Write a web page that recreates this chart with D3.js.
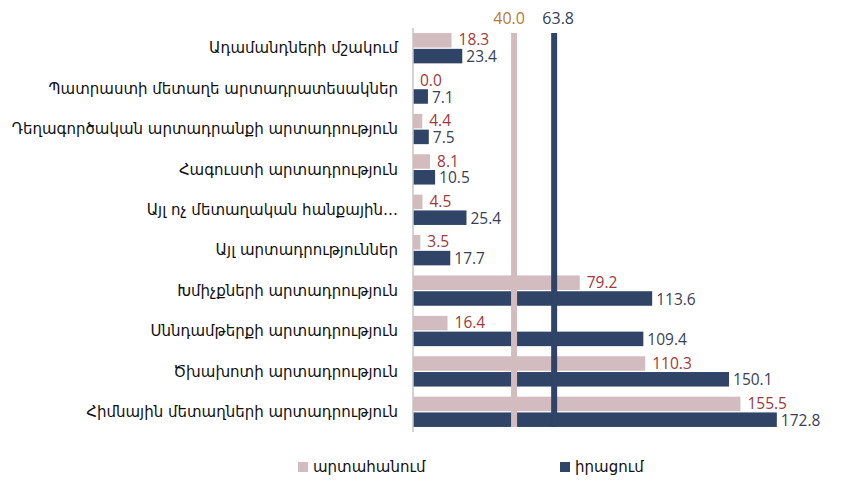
<!DOCTYPE html>
<html><head><meta charset="utf-8">
<script src="https://cdn.jsdelivr.net/npm/d3@7"></script>
<style>
html,body{margin:0;padding:0;background:#fff;}
svg{display:block;}
</style></head>
<body>
<svg id="chart" width="843" height="484"></svg>
<script>
const categories = [
  "Ադամանդների մշակում",
  "Պատրաստի մետաղե արտադրատեսակներ",
  "Դեղագործական արտադրանքի արտադրություն",
  "Հագուստի արտադրություն",
  "Այլ ոչ մետաղական հանքային…",
  "Այլ արտադրություններ",
  "Խմիչքների արտադրություն",
  "Սննդամթերքի արտադրություն",
  "Ծխախոտի արտադրություն",
  "Հիմնային մետաղների արտադրություն"
];
const exportValues = [18.3, 0.0, 4.4, 8.1, 4.5, 3.5, 79.2, 16.4, 110.3, 155.5];
const salesValues  = [23.4, 7.1, 7.5, 10.5, 25.4, 17.7, 113.6, 109.4, 150.1, 172.8];
const averageValues = [40.0, 63.8];
const seriesNames = ["արտահանում", "իրացում"];

const colors = {exp: "#d3bcc0", sal: "#2f4466"};
const labelColors = {exp: "#a03a3a", sal: "#3a3f55"};
const avgLabelColors = ["#b87a2e", "#34405a"];

const svg = d3.select("#chart");
const x0 = 413, x1 = 792, yTop = 28, yBot = 432;

const x = d3.scaleLinear().domain([0, 180]).range([x0, x1]);
const xRef = d3.scaleLinear().domain([-20, 205]).range([x0, x1]);
const y = d3.scaleBand().domain(categories).range([yTop, yBot]).paddingInner(0.25).paddingOuter(0.125);
const ySub = d3.scaleBand().domain(["exp", "sal"]).range([0, y.bandwidth()]).paddingInner(0.08);

const rows = categories.map((c, i) => ({cat: c, exp: exportValues[i], sal: salesValues[i]}));

// category labels
svg.append("g").selectAll("text").data(categories).join("text")
  .attr("x", 398)
  .attr("y", d => y(d) + y.bandwidth() / 2)
  .attr("dy", "0.35em")
  .attr("text-anchor", "end")
  .attr("font-family", "'DejaVu Sans', sans-serif")
  .attr("font-size", 15)
  .attr("fill", "#111")
  .text(d => d);

// bars
const g = svg.append("g");
["exp", "sal"].forEach(k => {
  g.selectAll("rect." + k).data(rows).join("rect")
    .attr("class", k)
    .attr("x", x(0))
    .attr("y", d => y(d.cat) + ySub(k))
    .attr("width", d => x(d[k]) - x(0))
    .attr("height", ySub.bandwidth())
    .attr("fill", colors[k]);
});

// value labels
["exp", "sal"].forEach(k => {
  g.selectAll("text." + k).data(rows).join("text")
    .attr("class", k)
    .attr("x", d => x(d[k]) + (k === "exp" ? 7 : 4))
    .attr("y", d => y(d.cat) + ySub(k) + ySub.bandwidth() / 2 + (k === "exp" ? -0.5 : 0.5))
    .attr("dy", "0.36em")
    .attr("font-family", "'Open Sans', sans-serif")
    .attr("font-size", 15.5)
    .attr("fill", labelColors[k])
    .text(d => d[k].toFixed(1));
});

// axis line
svg.append("line")
  .attr("x1", x0).attr("x2", x0)
  .attr("y1", yTop).attr("y2", yBot)
  .attr("stroke", "#c6c6c6").attr("stroke-width", 1.5);

// average lines
const lineTop = y(categories[0]);
const lineBot = y(categories[categories.length - 1]) + y.bandwidth();
const avgColors = [colors.exp, colors.sal];
averageValues.forEach((v, i) => {
  svg.append("line")
    .attr("x1", xRef(v)).attr("x2", xRef(v))
    .attr("y1", lineTop).attr("y2", lineBot)
    .attr("stroke", avgColors[i]).attr("stroke-width", 6);
  svg.append("text")
    .attr("x", xRef(v) + (i === 0 ? -5 : 4))
    .attr("y", 18)
    .attr("dy", "0.36em")
    .attr("text-anchor", "middle")
    .attr("font-family", "'Open Sans', sans-serif")
    .attr("font-size", 16)
    .attr("fill", avgLabelColors[i])
    .text(v.toFixed(1));
});

// legend
const legendX = [298, 560];
const lg = svg.append("g");
seriesNames.forEach((n, i) => {
  lg.append("rect")
    .attr("x", legendX[i]).attr("y", 462)
    .attr("width", 10).attr("height", 10)
    .attr("fill", i === 0 ? colors.exp : colors.sal);
  lg.append("text")
    .attr("x", legendX[i] + 15).attr("y", 467)
    .attr("dy", "0.35em")
    .attr("font-family", "'DejaVu Sans', sans-serif")
    .attr("font-size", 15)
    .attr("fill", "#111")
    .text(n);
});
</script>
</body></html>
